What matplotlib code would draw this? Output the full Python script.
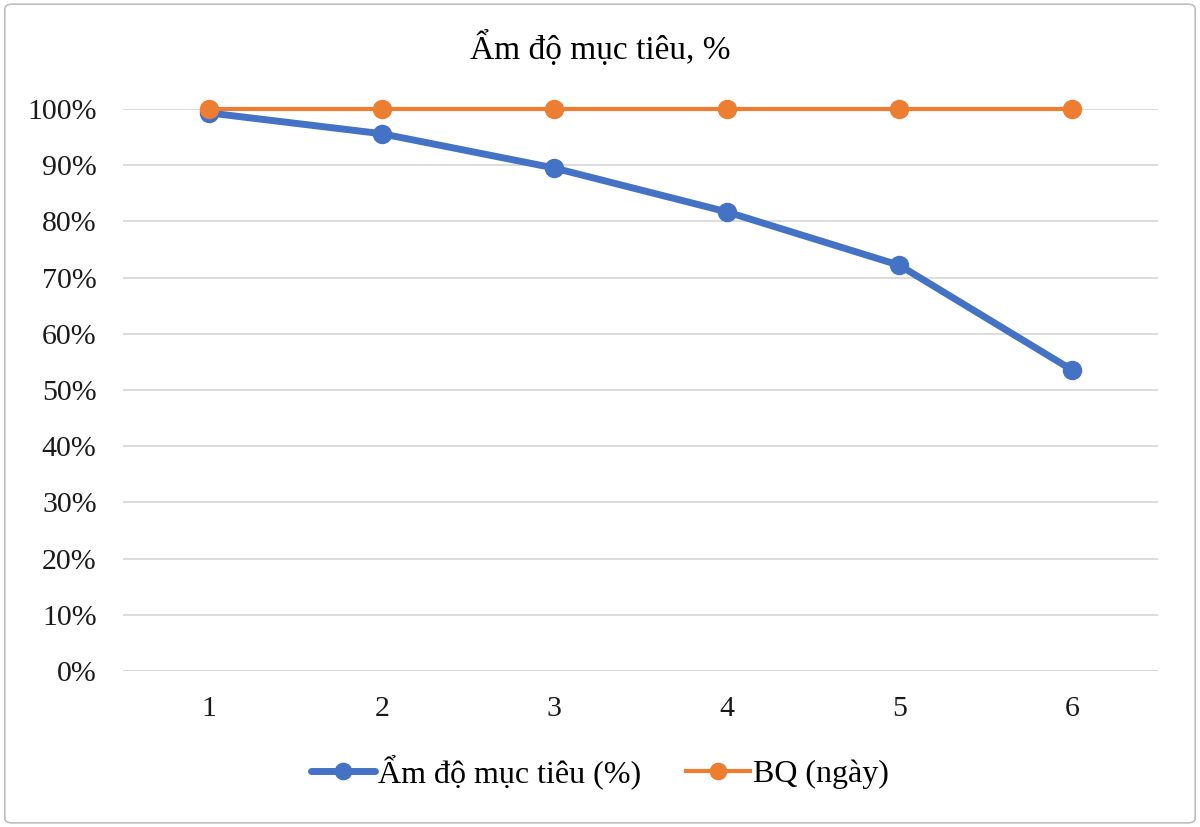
import matplotlib.pyplot as plt
from matplotlib.patches import FancyBboxPatch

plt.rcParams['font.family'] = ['Liberation Serif', 'DejaVu Serif']

# dữ liệu
categories = [1, 2, 3, 4, 5, 6]
am_do = [0.993, 0.956, 0.895, 0.817, 0.722, 0.536]
bq = [1.0, 1.0, 1.0, 1.0, 1.0, 1.0]
y_ticks = [0.0, 0.1, 0.2, 0.3, 0.4, 0.5, 0.6, 0.7, 0.8, 0.9, 1.0]

fig = plt.figure(figsize=(12, 8.27), dpi=100)
ax = fig.add_axes([123 / 1200, 1 - 671 / 827, (1158 - 123) / 1200, (671 - 109) / 827])

x = list(range(len(categories)))
ax.plot(x, am_do, color='#4472C4', lw=5, marker='o', ms=13, label='Ẩm độ mục tiêu (%)',
        solid_capstyle='round', zorder=3, clip_on=False)
ax.plot(x, bq, color='#ED7D31', lw=3, marker='o', ms=13, label='BQ (ngày)', zorder=4, clip_on=False)

ax.set_xlim(-0.5, len(categories) - 0.5)
ax.set_ylim(0, 1.0)
ax.set_yticks(y_ticks)
ax.set_yticklabels([f'{int(round(v * 100))}%' for v in y_ticks])
ax.set_xticks(x)
ax.set_xticklabels([str(c) for c in categories])
ax.tick_params(axis='both', length=0, labelsize=21.5, colors='#1a1a1a')
ax.tick_params(axis='x', pad=18)
ax.tick_params(axis='y', pad=19)
ax.grid(axis='y', color='#D9D9D9', lw=1.3, zorder=0)
ax.set_axisbelow(True)
for s in ax.spines.values():
    s.set_visible(False)
ax.axhline(0, color='#D9D9D9', lw=1.3, zorder=1)

fig.text(0.5, 1 - 48 / 827, 'Ẩm độ mục tiêu, %', ha='center', va='center', fontsize=24)

fig.legend(loc='center', bbox_to_anchor=(0.5, 1 - 772 / 827), ncol=2, frameon=False,
           fontsize=23, handlelength=2.0, columnspacing=1.4, handletextpad=0.1,
           markerscale=0.9)

# khung viền
fig.patches.append(FancyBboxPatch((0.004, 0.005), 0.992, 0.99, boxstyle='round,pad=0,rounding_size=0.006',
                                  transform=fig.transFigure, fill=False, ec='#BFBFBF', lw=1.2))

fig.savefig('out.png', dpi=100)
